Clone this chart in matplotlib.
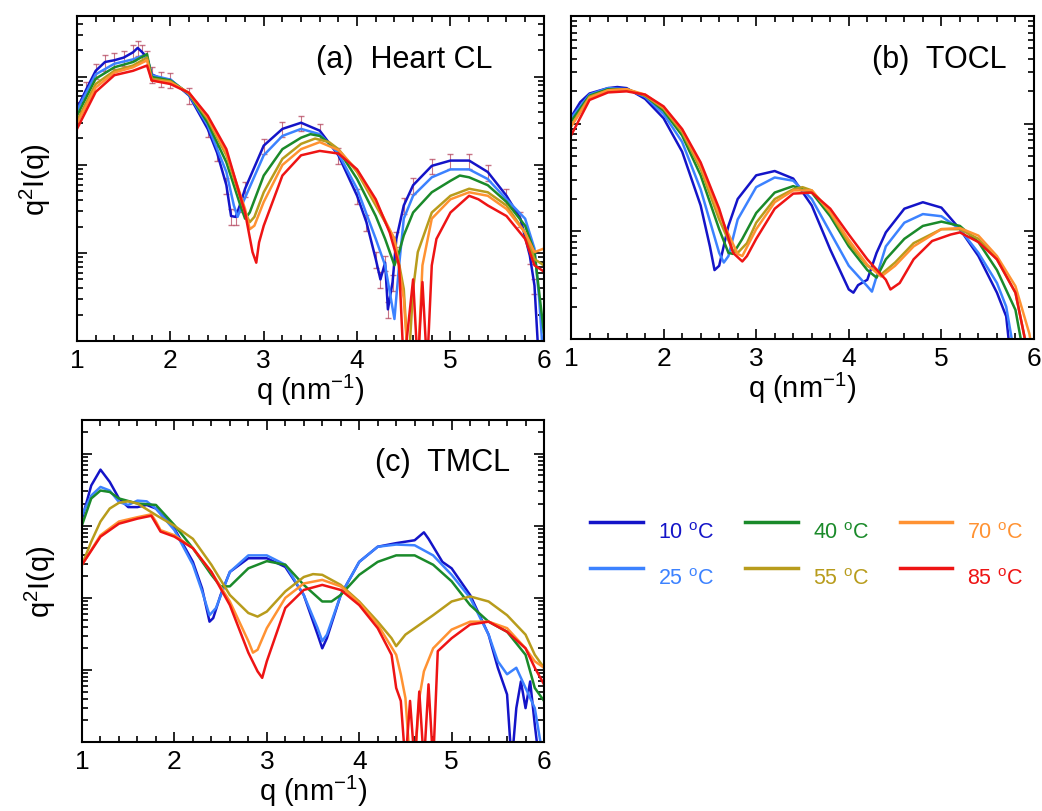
import numpy as np
import matplotlib
matplotlib.use('Agg')
import matplotlib.pyplot as plt
from matplotlib.ticker import MultipleLocator, LogLocator, NullFormatter

plt.rcParams['font.family'] = ['Liberation Sans', 'DejaVu Sans']
plt.rcParams['mathtext.fontset'] = 'custom'
plt.rcParams['mathtext.rm'] = 'Liberation Sans'

temps = ['10', '25', '40', '55', '70', '85']
colors = ['#1414c8', '#3c82ff', '#1a8a2a', '#b89c1c', '#ff9232', '#ee1414']

# log10 of q^2 I(q) (arbitrary units)
# (a) Heart CL
qa10 = [1.0, 1.1, 1.2, 1.3, 1.4, 1.5, 1.6, 1.65, 1.7, 1.75, 1.8, 1.9, 2.0, 2.2, 2.4, 2.5, 2.6, 2.65, 2.7, 2.75, 2.8, 3.0, 3.2, 3.4, 3.6, 3.8, 4.0, 4.1, 4.2, 4.25, 4.3, 4.33, 4.38, 4.42, 4.5, 4.6, 4.8, 5.0, 5.2, 5.4, 5.6, 5.75, 5.85, 5.9, 5.95]
La10 = [1.64, 1.86, 2.07, 2.17, 2.19, 2.22, 2.28, 2.33, 2.28, 2.22, 2.03, 1.98, 1.97, 1.79, 1.41, 1.14, 0.77, 0.42, 0.41, 0.56, 0.73, 1.22, 1.41, 1.48, 1.39, 1.11, 0.65, 0.35, -0.07, -0.30, -0.11, -0.64, -0.33, 0.16, 0.54, 0.77, 0.99, 1.05, 1.05, 0.92, 0.65, 0.39, -0.03, -0.37, -1.3]
qa25 = [1.0, 1.2, 1.4, 1.6, 1.7, 1.75, 1.8, 2.0, 2.2, 2.4, 2.6, 2.68, 2.72, 2.78, 3.0, 3.2, 3.4, 3.6, 3.8, 4.0, 4.2, 4.3, 4.4, 4.45, 4.5, 4.6, 4.8, 5.0, 5.2, 5.4, 5.6, 5.8, 5.9, 5.95, 6.0]
La25 = [1.62, 2.03, 2.15, 2.20, 2.24, 2.22, 2.02, 1.97, 1.80, 1.45, 0.92, 0.54, 0.41, 0.58, 1.11, 1.33, 1.41, 1.35, 1.13, 0.73, 0.16, -0.14, -0.75, -0.14, 0.39, 0.65, 0.86, 0.95, 0.95, 0.84, 0.61, 0.39, 0.05, -0.52, -1.3]
qa40 = [1.0, 1.2, 1.4, 1.6, 1.75, 1.8, 2.0, 2.2, 2.4, 2.6, 2.75, 2.8, 2.85, 3.0, 3.2, 3.4, 3.5, 3.6, 3.8, 4.0, 4.2, 4.3, 4.4, 4.45, 4.5, 4.6, 4.8, 5.0, 5.1, 5.2, 5.4, 5.6, 5.8, 5.9, 6.0]
La40 = [1.56, 1.98, 2.11, 2.17, 2.26, 2.00, 1.96, 1.81, 1.48, 1.03, 0.54, 0.39, 0.46, 0.88, 1.18, 1.31, 1.35, 1.33, 1.17, 0.84, 0.42, 0.16, -0.14, 0.01, 0.20, 0.46, 0.69, 0.82, 0.88, 0.86, 0.77, 0.58, 0.31, 0.01, -0.90]
qa55 = [1.0, 1.2, 1.4, 1.6, 1.75, 1.8, 2.0, 2.2, 2.4, 2.6, 2.8, 2.85, 2.9, 3.0, 3.2, 3.4, 3.55, 3.7, 3.8, 4.0, 4.2, 4.4, 4.5, 4.55, 4.6, 4.65, 4.8, 5.0, 5.2, 5.4, 5.6, 5.8, 5.9, 6.0]
La55 = [1.50, 1.92, 2.07, 2.13, 2.22, 1.98, 1.95, 1.81, 1.52, 1.11, 0.46, 0.35, 0.41, 0.69, 1.07, 1.24, 1.30, 1.26, 1.18, 0.92, 0.54, 0.16, -0.41, -1.3, -0.41, 0.01, 0.46, 0.65, 0.73, 0.69, 0.54, 0.23, -0.07, -0.14]
qa70 = [1.0, 1.2, 1.4, 1.6, 1.75, 1.8, 2.0, 2.2, 2.4, 2.6, 2.8, 2.85, 2.9, 3.0, 3.2, 3.4, 3.6, 3.8, 4.0, 4.2, 4.4, 4.5, 4.55, 4.65, 4.7, 4.8, 5.0, 5.2, 5.4, 5.6, 5.8, 5.9, 6.0]
La70 = [1.47, 1.88, 2.05, 2.11, 2.19, 1.96, 1.94, 1.82, 1.54, 1.14, 0.50, 0.27, 0.31, 0.58, 1.00, 1.18, 1.26, 1.17, 0.94, 0.58, 0.16, -0.52, -1.3, -1.3, -0.14, 0.39, 0.61, 0.69, 0.65, 0.50, 0.23, 0.01, 0.05]
qa85 = [1.0, 1.2, 1.4, 1.6, 1.75, 1.8, 2.0, 2.2, 2.4, 2.6, 2.8, 2.88, 2.92, 2.95, 3.0, 3.2, 3.4, 3.6, 3.8, 4.0, 4.2, 4.35, 4.45, 4.5, 4.6, 4.65, 4.7, 4.75, 4.8, 4.85, 5.0, 5.2, 5.3, 5.4, 5.6, 5.8, 5.9, 6.0]
La85 = [1.41, 1.83, 2.02, 2.07, 2.13, 1.96, 1.92, 1.82, 1.56, 1.18, 0.46, 0.01, -0.11, 0.12, 0.31, 0.88, 1.11, 1.16, 1.13, 0.95, 0.61, 0.23, -0.14, -1.3, -0.30, -1.3, -0.33, -1.3, -0.14, 0.16, 0.46, 0.65, 0.61, 0.54, 0.42, 0.16, -0.14, -0.21]
a_relerr = 0.2

# (b) TOCL
qb10 = [1.0, 1.1, 1.2, 1.4, 1.5, 1.6, 1.8, 2.0, 2.2, 2.4, 2.5, 2.55, 2.6, 2.7, 2.8, 3.0, 3.2, 3.4, 3.6, 3.8, 4.0, 4.05, 4.1, 4.2, 4.3, 4.4, 4.6, 4.8, 5.0, 5.2, 5.4, 5.6, 5.7, 5.75]
Lb10 = [0.06, 0.20, 0.28, 0.33, 0.34, 0.33, 0.23, 0.05, -0.26, -0.76, -1.14, -1.36, -1.32, -0.95, -0.70, -0.48, -0.44, -0.51, -0.76, -1.17, -1.54, -1.57, -1.50, -1.45, -1.20, -1.01, -0.79, -0.73, -0.78, -0.98, -1.23, -1.57, -1.79, -2.2]
qb25 = [1.0, 1.2, 1.4, 1.6, 1.8, 2.0, 2.2, 2.4, 2.6, 2.65, 2.7, 2.8, 3.0, 3.2, 3.4, 3.6, 3.8, 4.0, 4.2, 4.25, 4.3, 4.4, 4.6, 4.8, 5.0, 5.2, 5.4, 5.6, 5.7, 5.8]
Lb25 = [0.05, 0.27, 0.33, 0.32, 0.25, 0.09, -0.17, -0.61, -1.20, -1.29, -1.23, -0.89, -0.59, -0.50, -0.53, -0.70, -1.01, -1.32, -1.51, -1.56, -1.42, -1.14, -0.92, -0.84, -0.86, -0.98, -1.20, -1.48, -1.70, -2.2]
qb40 = [1.0, 1.2, 1.4, 1.6, 1.8, 2.0, 2.2, 2.4, 2.6, 2.7, 2.75, 2.85, 3.0, 3.2, 3.4, 3.6, 3.8, 4.0, 4.2, 4.3, 4.4, 4.6, 4.8, 5.0, 5.2, 5.4, 5.6, 5.8, 5.9]
Lb40 = [0.02, 0.26, 0.32, 0.32, 0.26, 0.12, -0.11, -0.48, -0.98, -1.20, -1.21, -1.07, -0.83, -0.64, -0.58, -0.64, -0.86, -1.14, -1.36, -1.43, -1.26, -1.07, -0.95, -0.91, -0.95, -1.10, -1.36, -1.73, -2.2]
qb55 = [1.0, 1.2, 1.4, 1.6, 1.8, 2.0, 2.2, 2.4, 2.6, 2.75, 2.8, 2.9, 3.0, 3.2, 3.4, 3.5, 3.6, 3.8, 4.0, 4.2, 4.35, 4.5, 4.7, 5.0, 5.2, 5.4, 5.6, 5.8, 5.95]
Lb55 = [-0.02, 0.25, 0.31, 0.32, 0.26, 0.14, -0.08, -0.42, -0.89, -1.18, -1.20, -1.11, -0.92, -0.70, -0.61, -0.59, -0.62, -0.83, -1.11, -1.32, -1.40, -1.29, -1.11, -0.98, -0.98, -1.07, -1.26, -1.57, -2.2]
qb70 = [1.0, 1.2, 1.4, 1.6, 1.8, 2.0, 2.2, 2.4, 2.6, 2.8, 2.85, 3.0, 3.2, 3.4, 3.6, 3.8, 4.0, 4.2, 4.35, 4.5, 4.7, 5.0, 5.2, 5.4, 5.6, 5.8, 5.95, 6.0]
Lb70 = [-0.03, 0.24, 0.31, 0.32, 0.27, 0.15, -0.06, -0.39, -0.84, -1.21, -1.23, -0.98, -0.73, -0.62, -0.62, -0.82, -1.08, -1.31, -1.42, -1.32, -1.14, -0.98, -0.97, -1.04, -1.23, -1.51, -1.95, -2.2]
qb85 = [1.0, 1.2, 1.4, 1.6, 1.8, 2.0, 2.2, 2.4, 2.6, 2.75, 2.85, 2.9, 3.0, 3.2, 3.4, 3.6, 3.8, 4.0, 4.2, 4.4, 4.45, 4.55, 4.7, 4.9, 5.1, 5.2, 5.4, 5.6, 5.8, 5.95]
Lb85 = [-0.11, 0.22, 0.29, 0.30, 0.27, 0.16, -0.05, -0.36, -0.79, -1.20, -1.28, -1.23, -1.07, -0.79, -0.65, -0.64, -0.79, -1.03, -1.26, -1.45, -1.54, -1.48, -1.26, -1.09, -1.03, -1.01, -1.10, -1.26, -1.57, -2.2]

# (c) TMCL
qc10 = [1.0, 1.1, 1.2, 1.3, 1.4, 1.5, 1.6, 1.7, 1.8, 2.0, 2.2, 2.3, 2.38, 2.42, 2.5, 2.6, 2.8, 3.0, 3.2, 3.4, 3.55, 3.6, 3.65, 3.8, 4.0, 4.2, 4.4, 4.6, 4.7, 4.75, 4.9, 5.0, 5.2, 5.4, 5.5, 5.6, 5.65, 5.7, 5.75, 5.8, 5.85, 5.9, 5.95]
Lc10 = [2.10, 2.56, 2.78, 2.61, 2.38, 2.26, 2.26, 2.29, 2.24, 1.96, 1.50, 1.13, 0.67, 0.72, 1.04, 1.36, 1.55, 1.55, 1.43, 1.04, 0.49, 0.30, 0.44, 1.04, 1.50, 1.71, 1.76, 1.80, 1.91, 1.82, 1.50, 1.41, 1.04, 0.49, 0.03, -0.34, -1.3, -0.53, -0.16, -0.53, -0.16, -0.76, -1.3]
qc25 = [1.0, 1.1, 1.2, 1.3, 1.4, 1.5, 1.6, 1.7, 1.8, 2.0, 2.2, 2.3, 2.38, 2.45, 2.6, 2.8, 3.0, 3.2, 3.4, 3.55, 3.6, 3.65, 3.8, 4.0, 4.2, 4.4, 4.6, 4.8, 5.0, 5.2, 5.4, 5.5, 5.6, 5.7, 5.8, 5.9, 6.0]
Lc25 = [2.15, 2.42, 2.54, 2.49, 2.33, 2.29, 2.35, 2.34, 2.24, 1.94, 1.46, 1.09, 0.76, 0.86, 1.36, 1.59, 1.59, 1.46, 1.04, 0.58, 0.40, 0.49, 1.04, 1.50, 1.71, 1.74, 1.73, 1.59, 1.32, 1.00, 0.49, 0.12, -0.06, 0.03, -0.25, -0.53, -1.3]
qc40 = [1.0, 1.1, 1.2, 1.3, 1.4, 1.6, 1.8, 2.0, 2.2, 2.4, 2.5, 2.6, 2.8, 3.0, 3.2, 3.4, 3.6, 3.7, 3.8, 4.0, 4.2, 4.4, 4.6, 4.8, 5.0, 5.2, 5.4, 5.6, 5.8, 5.9, 6.0]
Lc40 = [2.01, 2.38, 2.49, 2.47, 2.38, 2.31, 2.29, 2.01, 1.69, 1.32, 1.16, 1.16, 1.41, 1.51, 1.46, 1.18, 0.95, 0.95, 1.04, 1.32, 1.50, 1.59, 1.59, 1.46, 1.23, 0.90, 0.67, 0.53, 0.21, -0.25, -0.43]
qc55 = [1.0, 1.1, 1.2, 1.3, 1.4, 1.5, 1.6, 1.8, 2.0, 2.2, 2.4, 2.6, 2.8, 2.9, 3.0, 3.2, 3.4, 3.5, 3.6, 3.8, 4.0, 4.2, 4.35, 4.4, 4.5, 4.6, 4.8, 5.0, 5.2, 5.4, 5.6, 5.8, 5.9, 6.0]
Lc55 = [1.46, 1.78, 2.06, 2.24, 2.32, 2.34, 2.31, 2.15, 2.00, 1.82, 1.46, 1.04, 0.79, 0.74, 0.81, 1.09, 1.29, 1.33, 1.32, 1.18, 0.95, 0.67, 0.44, 0.33, 0.49, 0.58, 0.76, 0.95, 1.02, 0.95, 0.76, 0.49, 0.21, 0.03]
qc70 = [1.0, 1.2, 1.4, 1.6, 1.75, 1.8, 1.85, 2.0, 2.2, 2.4, 2.6, 2.8, 2.85, 2.9, 3.0, 3.2, 3.4, 3.6, 3.8, 4.0, 4.2, 4.4, 4.45, 4.5, 4.55, 4.6, 4.65, 4.7, 4.8, 5.0, 5.2, 5.4, 5.6, 5.8, 5.9, 6.0]
Lc70 = [1.46, 1.87, 2.06, 2.12, 2.16, 2.06, 1.94, 1.87, 1.69, 1.36, 0.95, 0.40, 0.24, 0.28, 0.58, 1.00, 1.20, 1.25, 1.16, 0.93, 0.63, 0.21, -0.06, -0.39, -1.3, -1.3, -0.39, -0.02, 0.30, 0.56, 0.67, 0.67, 0.58, 0.30, 0.12, 0.03]
qc85 = [1.0, 1.2, 1.4, 1.6, 1.75, 1.8, 1.85, 2.0, 2.2, 2.4, 2.6, 2.8, 2.9, 2.95, 3.0, 3.2, 3.4, 3.6, 3.8, 4.0, 4.2, 4.35, 4.4, 4.45, 4.5, 4.55, 4.6, 4.65, 4.7, 4.75, 4.8, 4.85, 5.0, 5.2, 5.4, 5.6, 5.8, 5.9, 6.0]
Lc85 = [1.46, 1.85, 2.03, 2.10, 2.14, 2.03, 1.92, 1.85, 1.69, 1.36, 0.90, 0.24, -0.02, -0.11, 0.12, 0.86, 1.11, 1.18, 1.11, 0.90, 0.58, 0.21, -0.25, -0.43, -1.3, -0.43, -1.3, -0.30, -1.3, -0.20, -1.3, 0.26, 0.44, 0.63, 0.67, 0.53, 0.30, 0.03, -0.20]

panel_a = [(qa10, La10), (qa25, La25), (qa40, La40), (qa55, La55), (qa70, La70), (qa85, La85)]
panel_b = [(qb10, Lb10), (qb25, Lb25), (qb40, Lb40), (qb55, Lb55), (qb70, Lb70), (qb85, Lb85)]
panel_c = [(qc10, Lc10), (qc25, Lc25), (qc40, Lc40), (qc55, Lc55), (qc70, Lc70), (qc85, Lc85)]

fig = plt.figure(figsize=(10.42, 8.12), dpi=100)
ax_a = fig.add_axes([0.0739, 0.5788, 0.448, 0.400])
ax_b = fig.add_axes([0.548, 0.5813, 0.4443, 0.3978])
ax_c = fig.add_axes([0.0787, 0.085, 0.4434, 0.3966])


def style(ax, ylim, label, lx):
    ax.set_yscale('log')
    ax.set_xlim(1, 6)
    ax.set_ylim(*ylim)
    ax.xaxis.set_major_locator(MultipleLocator(1))
    ax.xaxis.set_minor_locator(MultipleLocator(0.2))
    ax.yaxis.set_major_locator(LogLocator(base=10))
    ax.yaxis.set_minor_locator(LogLocator(base=10, subs=np.arange(2, 10)))
    ax.yaxis.set_major_formatter(NullFormatter())
    ax.yaxis.set_minor_formatter(NullFormatter())
    ax.tick_params(which='both', direction='in', top=True, right=True, width=1.2)
    ax.tick_params(which='major', length=7, labelsize=19, pad=5)
    ax.tick_params(which='minor', length=4)
    for s in ax.spines.values():
        s.set_linewidth(1.5)
    ax.set_xlabel('q (nm$^{-1}$)', fontsize=21, labelpad=0)
    ax.text(lx, 0.868, label, transform=ax.transAxes, ha='right', va='center', fontsize=22)


# (a) with error bars on the lowest-temperature data
ax_a.errorbar(qa10, 10 ** np.array(La10), yerr=a_relerr * 10 ** np.array(La10), fmt='none',
              ecolor='#b03a55', elinewidth=0.8, capsize=2, alpha=0.7)
for (q, L), c in zip(panel_a, colors):
    ax_a.plot(q, 10 ** np.array(L), color=c, lw=1.8)
style(ax_a, (0.1, 490), '(a)  Heart CL', 0.89)
ax_a.set_ylabel('q$^2$I(q)', fontsize=21, labelpad=12)

for (q, L), c in zip(panel_b, colors):
    ax_b.plot(q, 10 ** np.array(L), color=c, lw=1.8)
style(ax_b, (0.01, 10), '(b)  TOCL', 0.94)

lines = []
for (q, L), c, t in zip(panel_c, colors, temps):
    ln, = ax_c.plot(q, 10 ** np.array(L), color=c, lw=1.8, label=t + ' $^{\\mathrm{o}}$C')
    lines.append(ln)
style(ax_c, (0.1, 2950), '(c)  TMCL', 0.926)
ax_c.set_ylabel('q$^2$I(q)', fontsize=21, labelpad=12)

leg = fig.legend(handles=lines, loc='upper left', bbox_to_anchor=(590 / 1042, 0.366), ncol=3,
                 frameon=False, fontsize=15.5, handlelength=2.45, handletextpad=0.7,
                 columnspacing=1.45, labelspacing=1.15, borderpad=0, borderaxespad=0,
                 labelcolor='linecolor')
for h in leg.get_lines():
    h.set_linewidth(2.5)
# labels sit a little below their line in the original
for t in leg.get_texts():
    t.set_y(-8)

fig.savefig('out.png', dpi=100)
